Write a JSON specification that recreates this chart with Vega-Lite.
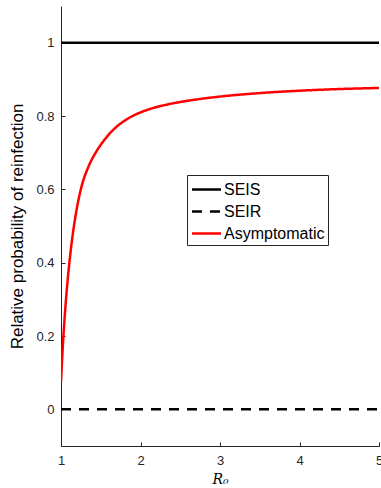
{
  "$schema": "https://vega.github.io/schema/vega-lite/v6.json",
  "autosize": {"type": "none"},
  "padding": {"left": 61, "top": 6, "right": 2, "bottom": 42},
  "width": 318,
  "height": 440,
  "config": {
    "view": {"stroke": null},
    "font": "Liberation Sans",
    "axis": {"grid": false, "domainColor": "#262626", "tickColor": "#262626", "labelColor": "#262626", "titleColor": "#000000", "labelFont": "Liberation Sans", "labelFontSize": 13, "domainWidth": 1, "tickWidth": 1}
  },
  "data": {
    "values": [
      {"R": 1, "p": 1, "s": "SEIS"},
      {"R": 5, "p": 1, "s": "SEIS"},
      {"R": 1, "p": 0, "s": "SEIR"},
      {"R": 5, "p": 0, "s": "SEIR"},
      {"R": 1.0, "p": 0.075, "s": "Asymptomatic"},
      {"R": 1.02, "p": 0.161, "s": "Asymptomatic"},
      {"R": 1.05, "p": 0.263, "s": "Asymptomatic"},
      {"R": 1.09, "p": 0.367, "s": "Asymptomatic"},
      {"R": 1.13, "p": 0.447, "s": "Asymptomatic"},
      {"R": 1.2, "p": 0.549, "s": "Asymptomatic"},
      {"R": 1.26, "p": 0.609, "s": "Asymptomatic"},
      {"R": 1.34, "p": 0.659, "s": "Asymptomatic"},
      {"R": 1.45, "p": 0.705, "s": "Asymptomatic"},
      {"R": 1.55, "p": 0.736, "s": "Asymptomatic"},
      {"R": 1.68, "p": 0.767, "s": "Asymptomatic"},
      {"R": 1.85, "p": 0.794, "s": "Asymptomatic"},
      {"R": 2.05, "p": 0.814, "s": "Asymptomatic"},
      {"R": 2.27, "p": 0.828, "s": "Asymptomatic"},
      {"R": 2.52, "p": 0.839, "s": "Asymptomatic"},
      {"R": 2.77, "p": 0.847, "s": "Asymptomatic"},
      {"R": 3.0, "p": 0.853, "s": "Asymptomatic"},
      {"R": 3.5, "p": 0.8625, "s": "Asymptomatic"},
      {"R": 4.0, "p": 0.869, "s": "Asymptomatic"},
      {"R": 4.5, "p": 0.8735, "s": "Asymptomatic"},
      {"R": 5.0, "p": 0.8765, "s": "Asymptomatic"}
    ]
  },
  "mark": {"type": "line", "strokeWidth": 2.5, "interpolate": "monotone", "clip": true},
  "encoding": {
    "x": {
      "field": "R", "type": "quantitative",
      "scale": {"domain": [1, 5], "nice": false},
      "axis": {"values": [1, 2, 3, 4, 5], "tickSize": -4, "labelPadding": 12, "title": "R₀", "titleFont": "DejaVu Serif", "titleFontStyle": "italic", "titleFontWeight": "normal", "titleFontSize": 14, "titlePadding": 5, "labelFlush": false}
    },
    "y": {
      "field": "p", "type": "quantitative",
      "scale": {"domain": [-0.1, 1.1], "nice": false, "zero": false},
      "axis": {"values": [0, 0.2, 0.4, 0.6, 0.8, 1], "format": "~g", "tickSize": -4, "labelPadding": 11, "title": "Relative probability of reinfection", "titleFontSize": 17, "titleFontWeight": "normal", "titlePadding": 9}
    },
    "color": {
      "field": "s", "type": "nominal",
      "scale": {"domain": ["SEIS", "SEIR", "Asymptomatic"], "range": ["#000000", "#000000", "#ff0000"]},
      "legend": {"title": null, "orient": "none", "legendX": 126, "legendY": 169, "symbolType": "M-1.45,0H1.45", "symbolSize": 400, "symbolStrokeWidth": 2.5, "symbolOffset": 5, "labelFontSize": 16, "labelColor": "#000000", "strokeColor": "#262626", "fillColor": "#ffffff", "padding": 3, "rowPadding": 2, "labelOffset": 6}
    },
    "strokeDash": {
      "field": "s", "type": "nominal",
      "scale": {"domain": ["SEIS", "SEIR", "Asymptomatic"], "range": [[1, 0], [10, 8], [1, 0]]},
      "legend": null
    }
  }
}
